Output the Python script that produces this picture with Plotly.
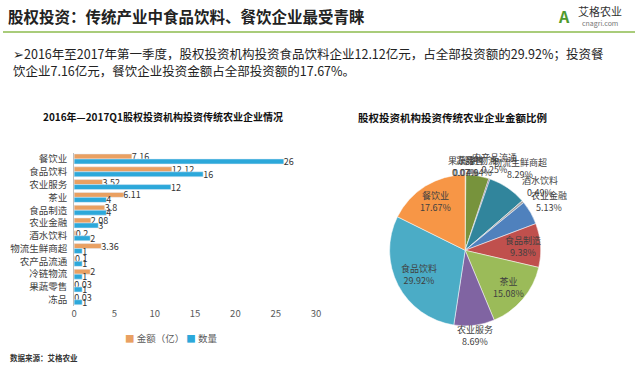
import math
import plotly.graph_objects as go

# ---------------- data ----------------
categories = ["餐饮业", "食品饮料", "农业服务", "茶业", "食品制造", "农业金融",
              "酒水饮料", "物流生鲜商超", "农产品流通", "冷链物流", "果蔬零售", "冻品"]
amount = [7.16, 12.12, 3.52, 6.11, 3.8, 2.08, 0.2, 3.36, 0.1, 2, 0.03, 0.03]
count = [26, 16, 12, 4, 4, 3, 2, 1, 1, 1, 1, 1]

pie_labels = ["冻品", "果蔬零售", "冷链物流", "农产品流通", "物流生鲜商超", "酒水饮料",
              "农业金融", "食品制造", "茶业", "农业服务", "食品饮料", "餐饮业"]
pie_values = [0.03, 0.03, 2, 0.1, 3.36, 0.2, 2.08, 3.8, 6.11, 3.52, 12.12, 7.16]

x_ticks = [0, 5, 10, 15, 20, 25, 30]

# ---------------- styles ----------------
pie_colors = ["#7F7F7F", "#948A54", "#77933C", "#604A7B", "#31859C", "#A5A5A5",
              "#4F81BD", "#C0504D", "#9BBB59", "#8064A2", "#4BACC6", "#F79646"]
# radial distance of each pie label centre, as a fraction of the radius
pie_label_r = [1.1, 1.1, 1.12, 1.2, 1.3, 1.3, 1.28, 0.77, 0.75, 1.12, 0.69, 0.75]

FONT = "Noto Sans CJK SC"
W, H = 640, 365


def px(x):
    return x / W


def py(y):
    return 1 - y / H


# pie geometry (pixels)
PCX, PCY, PR = 468, 250, 76.5

fig = go.Figure()

fig.add_trace(go.Bar(
    y=categories, x=amount, orientation="h", name="金额（亿）",
    marker_color="#E9A062", text=[str(v) for v in amount],
    textposition="outside", cliponaxis=False, constraintext="none",
    textfont=dict(size=9, color="#333333", family=FONT),
    showlegend=False,
))
fig.add_trace(go.Bar(
    y=categories, x=count, orientation="h", name="数量",
    marker_color="#2CA8DA", text=[str(v) for v in count],
    textposition="outside", cliponaxis=False, constraintext="none",
    textfont=dict(size=9, color="#333333", family=FONT),
    showlegend=False,
))

fig.add_trace(go.Pie(
    labels=pie_labels, values=pie_values, sort=False, direction="clockwise",
    rotation=0, marker=dict(colors=pie_colors, line=dict(color="white", width=0.5)),
    textinfo="none",
    domain=dict(x=[px(PCX - PR), px(PCX + PR)], y=[py(PCY + PR), py(PCY - PR)]),
    showlegend=False, hoverinfo="label+percent",
))

fig.update_layout(
    width=W, height=H, margin=dict(l=0, r=0, t=0, b=0),
    paper_bgcolor="white", plot_bgcolor="white",
    font=dict(family=FONT, color="#333333"),
    barmode="group", bargap=0.22, bargroupgap=0,
    xaxis=dict(domain=[px(72), px(317)], range=[0, 30], tickvals=x_ticks,
               showgrid=False, zeroline=False, showline=False,
               tickfont=dict(size=9.5, color="#595959"), ticks=""),
    yaxis=dict(domain=[py(306), py(152)], autorange="reversed", type="category",
               showline=True, linecolor="#BFBFBF", linewidth=1, ticks="",
               ticklabelstandoff=4,
               tickfont=dict(size=9.5, color="#404040")),
    shapes=[dict(type="line", xref="paper", yref="paper", x0=0, x1=1,
                 y0=py(31), y1=py(31),
                 line=dict(color="#A9CC7A", width=2))],
)

ann = [
    dict(text="<b>股权投资：传统产业中食品饮料、餐饮企业最受青睐</b>", x=px(3), y=py(15),
         xanchor="left", yanchor="middle", font=dict(size=15.5, color="#222222")),
    dict(text="➢2016年至2017年第一季度，股权投资机构投资食品饮料企业12.12亿元，占全部投资额的29.92%；投资餐",
         x=px(8), y=py(53), xanchor="left", yanchor="middle",
         font=dict(size=12.5, color="#222222")),
    dict(text="饮企业7.16亿元，餐饮企业投资金额占全部投资额的17.67%。",
         x=px(8), y=py(70), xanchor="left", yanchor="middle",
         font=dict(size=12.5, color="#222222")),
    dict(text="<b>2016年—2017Q1股权投资机构投资传统农业企业情况</b>", x=px(162), y=py(116),
         xanchor="center", yanchor="middle", font=dict(size=10, color="#111111")),
    dict(text="<b>股权投资机构投资传统农业企业金额比例</b>", x=px(455), y=py(117),
         xanchor="center", yanchor="middle", font=dict(size=10.5, color="#111111")),
    dict(text="<span style='color:#E9A062'>■</span> 金额（亿） <span style='color:#2CA8DA'>■</span> 数量",
         x=px(170), y=py(338), xanchor="center", yanchor="middle",
         font=dict(size=9.5, color="#595959")),
    dict(text="<b>数据来源：艾格农业</b>", x=px(5), y=py(357),
         xanchor="left", yanchor="middle", font=dict(size=7.5, color="#333333")),
    dict(text="<b>A</b>", x=px(568), y=py(15), xanchor="center", yanchor="middle",
         font=dict(size=16, color="#4E9A2E")),
    dict(text="艾格农业", x=px(605), y=py(10), xanchor="center", yanchor="middle",
         font=dict(size=11, color="#333333")),
    dict(text="cnagri.com", x=px(605), y=py(22), xanchor="center", yanchor="middle",
         font=dict(size=7, color="#777777")),
]

# pie labels placed at each slice's mid-angle, derived from the values
total = sum(pie_values)
cum = 0.0
for lab, val, rf in zip(pie_labels, pie_values, pie_label_r):
    mid = (cum + val / 2) / total * 2 * math.pi
    cum += val
    lx = PCX + rf * PR * math.sin(mid)
    ly = PCY - rf * PR * math.cos(mid)
    ann.append(dict(text=f"{lab}<br>{val / total * 100:.2f}%", x=px(lx), y=py(ly),
                    xanchor="center", yanchor="middle",
                    font=dict(size=9, color="#404040")))

for a in ann:
    a.update(xref="paper", yref="paper", showarrow=False)
fig.update_layout(annotations=ann)

fig.write_html("out.html", config={"displayModeBar": False},
               post_script="document.body.style.margin='0';document.body.style.overflow='hidden';")
